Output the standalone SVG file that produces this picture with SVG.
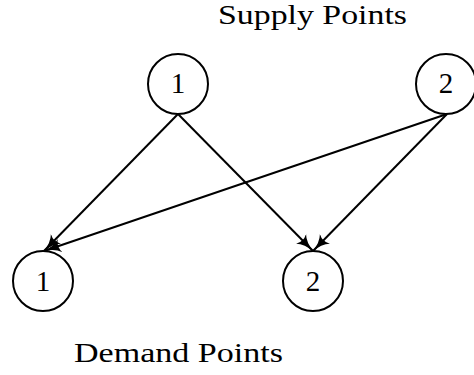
<svg xmlns="http://www.w3.org/2000/svg" width="474" height="375" viewBox="0 0 474 375">
<style>
.node circle{fill:#fff;stroke:#000;stroke-width:2}
.node text{font-family:"Liberation Serif",serif;font-size:29px;text-anchor:middle;fill:#000}
.lbl{font-family:"Liberation Serif",serif;font-size:27px;fill:#000}
#edges line{stroke:#000;stroke-width:2;marker-end:url(#ah)}
</style>
<defs>
<marker id="ah" viewBox="0 0 18 14" refX="17" refY="7" markerWidth="18" markerHeight="14" markerUnits="userSpaceOnUse" orient="auto">
<path d="M0,0 Q6,6 18,7 Q6,8 0,14 Q4,7 0,0 Z" fill="#000"/>
</marker>
</defs>
<text class="lbl" x="218" y="24" textLength="189" lengthAdjust="spacingAndGlyphs">Supply Points</text>
<text class="lbl" x="74" y="362" textLength="209" lengthAdjust="spacingAndGlyphs">Demand Points</text>
<g id="edges">
<line x1="178" y1="114" x2="44" y2="251"/>
<line x1="178" y1="114" x2="313" y2="251"/>
<line x1="447" y1="114" x2="44" y2="251"/>
<line x1="447" y1="114" x2="313" y2="251"/>
</g>
<g id="s1" class="node"><circle cx="178" cy="84" r="30"/><text x="178" y="93">1</text></g>
<g id="s2" class="node"><circle cx="446" cy="84" r="30"/><text x="446" y="93">2</text></g>
<g id="d1" class="node"><circle cx="43" cy="281" r="30"/><text x="43" y="291">1</text></g>
<g id="d2" class="node"><circle cx="313" cy="281" r="30"/><text x="313" y="291">2</text></g>
</svg>
